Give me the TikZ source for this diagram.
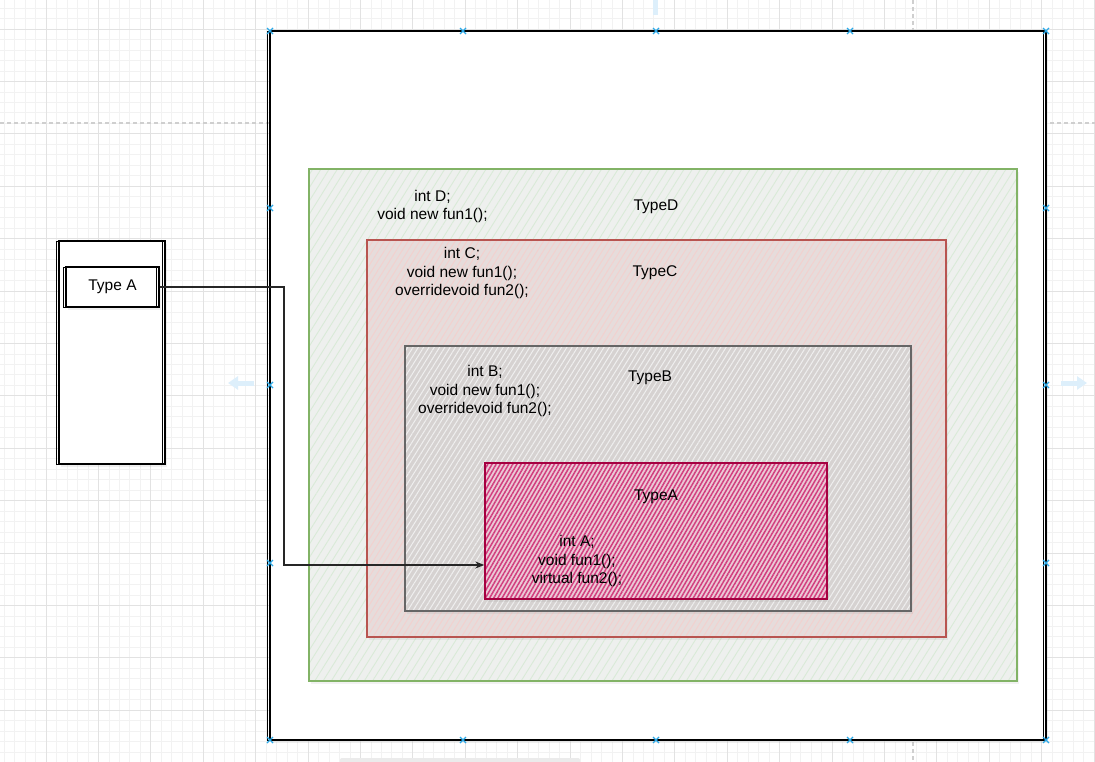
\documentclass[tikz,border=0pt]{standalone}
\usepackage{fontspec}
\setmainfont{Liberation Sans}
\usepackage{tikz}
\usetikzlibrary{arrows.meta,positioning,patterns.meta,shadows}
\definecolor{gridlo}{HTML}{F2F2F2}
\definecolor{gridhi}{HTML}{E2E2E2}
\definecolor{pagegray}{HTML}{CFCFCF}
\definecolor{selblue}{HTML}{29A8E8}
\definecolor{hoverblue}{HTML}{DDEFFB}
\definecolor{grnline}{HTML}{82B366}
\definecolor{grnbase}{HTML}{EEF0EE}
\definecolor{grnhatch}{HTML}{D9EAD7}
\definecolor{redline}{HTML}{B85450}
\definecolor{redbase}{HTML}{E6DCDB}
\definecolor{redhatch}{HTML}{F3D0CE}
\definecolor{grayline}{HTML}{666666}
\definecolor{graybase}{HTML}{D6D2D1}
\definecolor{grayhatch}{HTML}{EFEFEF}
\definecolor{magline}{HTML}{A50040}
\definecolor{magbase}{HTML}{EBC9D6}
\definecolor{maghatch}{HTML}{D23E7E}
\tikzset{
  >={Stealth[length=9pt,width=7pt]},
  gridminor/.style={draw=gridlo,line width=0.7pt},
  gridmajor/.style={draw=gridhi,line width=0.9pt},
  pagebrk/.style={draw=pagegray,line width=1.2pt,dash pattern=on 4pt off 3pt},
  handle/.style={draw=selblue,line width=1.3pt},
  hover/.style={draw=hoverblue,line width=5pt,-{Triangle[length=10pt,width=13pt]}},
  sketch/.style={draw=black,line width=1.4pt,fill=white,inner sep=0pt,
    drop shadow={opacity=0.12,shadow xshift=2pt,shadow yshift=-3pt},
    postaction={draw,line width=0.7pt,transform canvas={xshift=-2.5pt}}},
  layer/.style={line width=1.2pt,inner sep=0pt,
    drop shadow={opacity=0.10,shadow xshift=2pt,shadow yshift=-3pt}},
  dlay/.style={layer,draw=grnline,preaction={fill=grnbase},
    preaction={pattern={Lines[angle=58,distance=7pt,line width=0.9pt]},pattern color=grnhatch}},
  clay/.style={layer,draw=redline,preaction={fill=redbase},
    preaction={pattern={Lines[angle=58,distance=5pt,line width=0.9pt]},pattern color=redhatch}},
  blay/.style={layer,draw=grayline,preaction={fill=graybase},
    preaction={pattern={Lines[angle=58,distance=4.5pt,line width=1pt]},pattern color=grayhatch}},
  alay/.style={layer,draw=magline,line width=1.4pt,preaction={fill=magbase},
    preaction={pattern={Lines[angle=60,distance=3.6pt,line width=1.5pt]},pattern color=maghatch}},
  txt/.style={font=\fontsize{15.5}{18.5}\selectfont,align=center,inner sep=0pt},
  conn/.style={->,draw=black!85,line width=1.3pt},
}
\begin{document}
\begin{tikzpicture}[x=1pt,y=-1pt]
\useasboundingbox (0,0) rectangle (1095,762);
\fill[white] (0,0) rectangle (1095,762);
% editor grid
\begin{scope}
\clip (0,0) rectangle (1095,762);
\foreach \k in {0,...,106} {
  \draw[gridminor] ({-6.4+10.48*\k},0) -- ++(0,762);
  \draw[gridminor] (0,{-23.4+10.48*\k}) -- ++(1095,0);
}
\foreach \k in {0,...,21} {
  \draw[gridmajor] ({-6.4+52.4*\k},0) -- ++(0,762);
  \draw[gridmajor] (0,{-23.4+52.4*\k}) -- ++(1095,0);
}
\draw[pagebrk] (0,123) -- (1095,123);
\draw[pagebrk] (913,0) -- (913,762);
\end{scope}
% boxes
\node[sketch,minimum width=776pt,minimum height=709pt] (frame) at (658,385.5) {};
\node[dlay,minimum width=708pt,minimum height=512pt] (typeD) at (663,425) {};
\node[clay,minimum width=579pt,minimum height=397pt] (typeC) at (656.5,438.5) {};
\node[blay,minimum width=506pt,minimum height=265pt] (typeB) at (658,478.5) {};
\node[alay,minimum width=342pt,minimum height=136pt] (typeA) at (656,531) {};
\node[sketch,minimum width=106pt,minimum height=223pt] (ref) at (112,352.5) {};
\node[sketch,minimum width=93pt,minimum height=40pt] (refA) at (112.5,287) {};
% labels
\node[txt] (refAlab) at (refA) {Type A};
\node[txt] (memD) at (432.5,206.5) {int D;\\void new fun1();};
\node[txt] (labD) at (656,207) {TypeD};
\node[txt] (memC) at (462,273) {int C;\\void new fun1();\\overridevoid fun2();};
\node[txt] (labC) at (655,273) {TypeC};
\node[txt] (memB) at (485,391) {int B;\\void new fun1();\\overridevoid fun2();};
\node[txt] (labB) at (650,378) {TypeB};
\node[txt] (labA) at (656,497) {TypeA};
\node[txt] (memA) at (577,561) {int A;\\void fun1();\\virtual fun2();};
% reference
\coordinate (bend) at (284,565);
\draw[conn] (refA.east) -| (bend) -- (bend -| typeA.west);
% selection handles
\foreach \x in {270,463,656,850,1046} {
  \foreach \y in {31,740} {
    \draw[handle] (\x-3,\y-3) -- (\x+3,\y+3) (\x-3,\y+3) -- (\x+3,\y-3);
  }
}
\foreach \x in {270,1046} {
  \foreach \y in {208,385,563} {
    \draw[handle] (\x-3,\y-3) -- (\x+3,\y+3) (\x-3,\y+3) -- (\x+3,\y-3);
  }
}
\coordinate (hl) at (254,383);
\coordinate (hr) at (1061,383);
\coordinate (ht) at (655.5,15);
\draw[hover] (hl) -- ++(-26,0);
\draw[hover] (hr) -- ++(26,0);
\draw[draw=hoverblue,line width=5pt] (ht) -- ++(0,-15);
\fill[gridhi!70,rounded corners=2pt] (340,758) rectangle (580,764);
\end{tikzpicture}
\end{document}
